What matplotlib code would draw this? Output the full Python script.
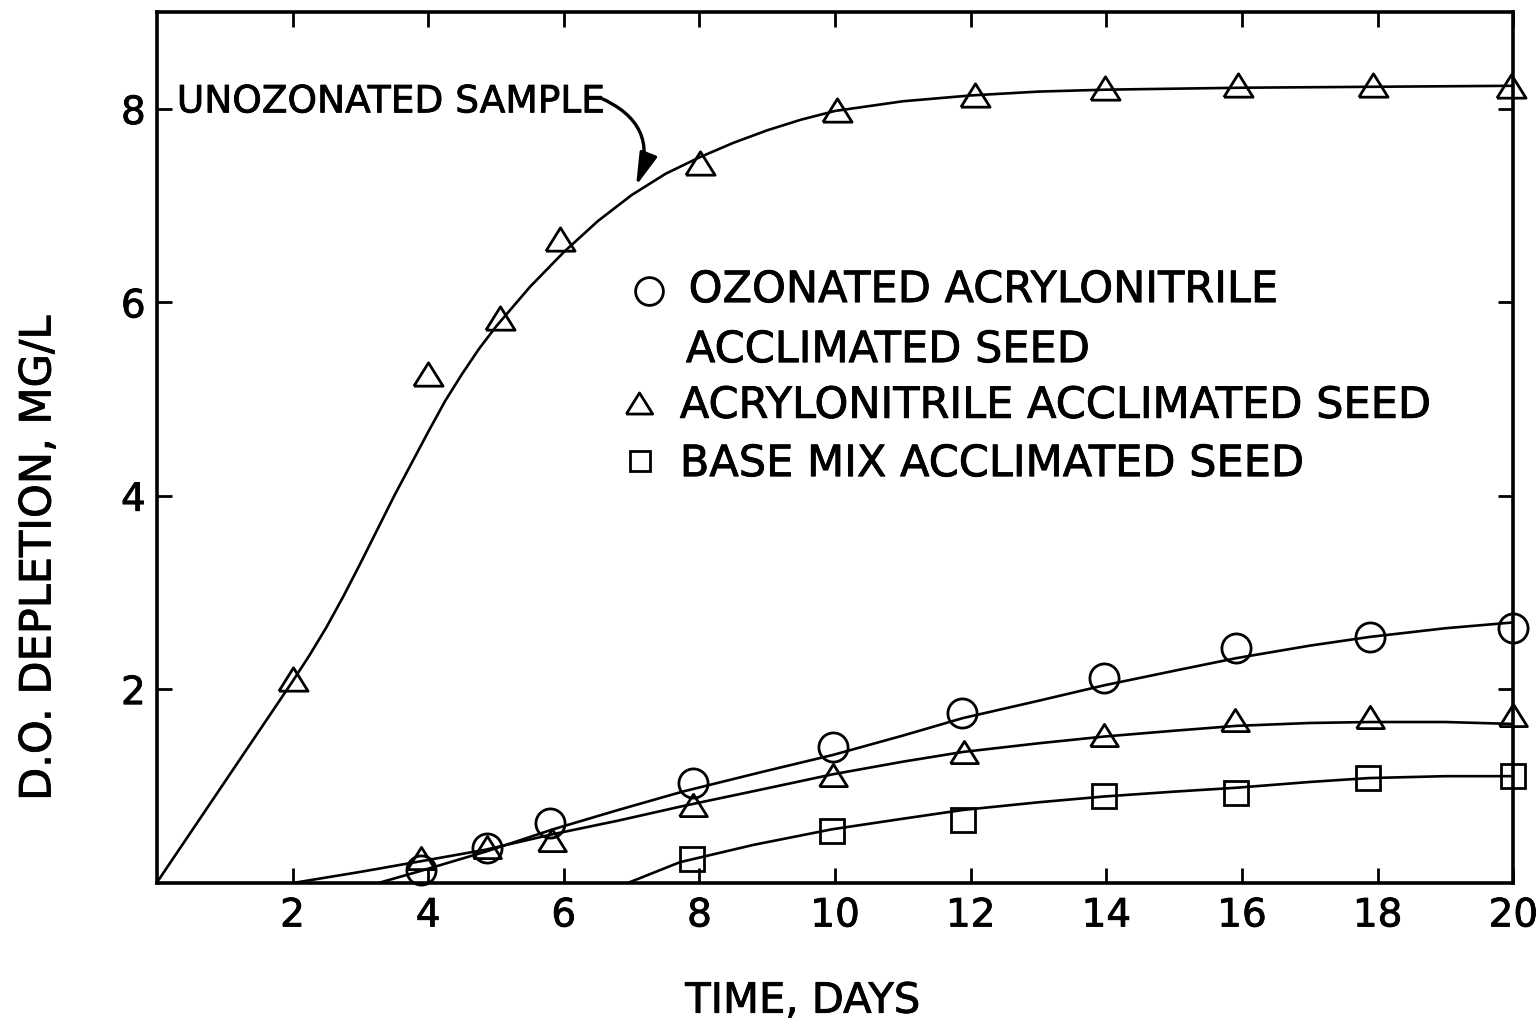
import numpy as np
import matplotlib.pyplot as plt
import matplotlib.patheffects as pe

# D.O. depletion vs time

# unozonated sample - points and hand drawn curve
unoz_t = [2.0, 4.0, 5.06, 5.94, 8.01, 10.03, 12.06, 13.98, 15.94, 17.93, 19.96]
unoz_do = [2.1, 5.26, 5.84, 6.66, 7.44, 7.99, 8.14, 8.22, 8.25, 8.25, 8.24]
unoz_curve_t = [0, 0.5, 1, 1.5, 2, 2.25, 2.5, 2.75, 3, 3.5, 4, 4.25, 4.5, 4.75, 5, 5.5, 6,
                6.5, 7, 7.5, 8, 8.5, 9, 9.5, 10, 11, 12, 13, 14, 16, 18, 20]
unoz_curve_do = [0, 0.52, 1.04, 1.56, 2.08, 2.35, 2.64, 2.96, 3.3, 4.0, 4.66, 4.98, 5.26,
                 5.52, 5.75, 6.16, 6.52, 6.84, 7.11, 7.33, 7.50, 7.65, 7.78, 7.89, 7.98,
                 8.08, 8.14, 8.18, 8.2, 8.22, 8.23, 8.24]

# ozonated acrylonitrile, acclimated seed (circles)
oz_t = [3.89, 4.87, 5.8, 7.9, 9.97, 11.87, 13.97, 15.91, 17.88, 19.99]
oz_do = [0.13, 0.36, 0.62, 1.03, 1.40, 1.75, 2.12, 2.43, 2.54, 2.63]
oz_curve_t = [3.29, 3.89, 4.85, 5.84, 6.8, 7.75, 8.9, 9.97, 11.0, 11.88, 13.0, 13.97, 15.0,
              15.91, 17.0, 17.88, 19.0, 20.0]
oz_curve_do = [0, 0.12, 0.32, 0.55, 0.75, 0.94, 1.14, 1.32, 1.52, 1.70, 1.88, 2.04, 2.19,
               2.32, 2.45, 2.54, 2.63, 2.69]

# acrylonitrile acclimated seed (triangles)
acc_t = [3.89, 4.87, 5.83, 7.9, 9.97, 11.9, 13.97, 15.9, 17.88, 20.0]
acc_do = [0.25, 0.37, 0.44, 0.80, 1.11, 1.35, 1.53, 1.68, 1.71, 1.73]
acc_curve_t = [2.05, 3.0, 3.89, 4.85, 5.84, 6.8, 7.75, 8.9, 9.97, 11.0, 11.88, 13.0, 13.97,
               15.0, 15.91, 17.0, 17.88, 19.0, 20.0]
acc_curve_do = [0, 0.11, 0.22, 0.34, 0.50, 0.64, 0.79, 0.96, 1.12, 1.25, 1.35, 1.44, 1.51,
                1.57, 1.62, 1.65, 1.66, 1.66, 1.64]

# base mix acclimated seed (squares)
base_t = [7.89, 9.95, 11.88, 13.97, 15.91, 17.86, 19.99]
base_do = [0.24, 0.53, 0.65, 0.89, 0.93, 1.08, 1.10]
base_curve_t = [6.96, 7.71, 8.8, 9.95, 11.0, 11.88, 13.0, 13.97, 15.0, 15.91, 17.0, 17.86,
                19.0, 20.0]
base_curve_do = [0, 0.21, 0.39, 0.55, 0.66, 0.75, 0.83, 0.89, 0.94, 0.98, 1.04, 1.08,
                 1.10, 1.10]

x_ticks = [2, 4, 6, 8, 10, 12, 14, 16, 18, 20]
y_ticks = [2, 4, 6, 8]

plt.rcParams['font.family'] = 'DejaVu Sans'

# open triangle, a bit flatter than matplotlib's '^'
tri = [(-1, -0.8), (1, -0.8), (0, 0.8), (-1, -0.8)]
lw = 1.9
mk = dict(linestyle='none', markerfacecolor='none', markeredgecolor='k',
          markeredgewidth=2.0, clip_on=False, zorder=3)
# slightly thicker strokes, like the hand lettering
bold = [pe.withStroke(linewidth=0.6, foreground='k')]

fig = plt.figure(figsize=(15.38, 10.25), dpi=100)
ax = fig.add_axes([0.102, 0.139, 0.882, 0.849])

ax.plot(unoz_curve_t, unoz_curve_do, 'k-', lw=lw)
ax.plot(oz_curve_t, oz_curve_do, 'k-', lw=lw)
ax.plot(acc_curve_t, acc_curve_do, 'k-', lw=lw)
ax.plot(base_curve_t, base_curve_do, 'k-', lw=lw)

ax.plot(unoz_t, unoz_do, marker=tri, markersize=21, **mk)
ax.plot(oz_t, oz_do, marker='o', markersize=21, **mk)
ax.plot(acc_t, acc_do, marker=tri, markersize=20, **mk)
ax.plot(base_t, base_do, marker='s', markersize=17, **mk)

ax.set_xlim(0, 20)
ax.set_ylim(0, 9)
ax.set_xticks(x_ticks)
ax.set_yticks(y_ticks)
ax.tick_params(direction='in', top=True, right=True, length=11, width=2,
               labelsize=28, pad=10)
ax.tick_params(axis='y', pad=8)
for s in ax.spines.values():
    s.set_linewidth(2.6)
for lab in ax.get_xticklabels() + ax.get_yticklabels():
    lab.set_path_effects(bold)

# legend written as in the original drawing
leg_x = 0.392
ax.plot([0.3625], [0.667 + 0.013], transform=ax.transAxes, marker='o', markersize=20, **mk)
ax.text(leg_x, 0.667, 'OZONATED ACRYLONITRILE', transform=ax.transAxes, fontsize=31,
        va='baseline', path_effects=bold)
ax.text(leg_x - 0.002, 0.598, 'ACCLIMATED SEED', transform=ax.transAxes, fontsize=31,
        va='baseline', path_effects=bold)
ax.plot([0.3555], [0.534 + 0.017], transform=ax.transAxes, marker=tri, markersize=19, **mk)
ax.text(leg_x - 0.0065, 0.534, 'ACRYLONITRILE ACCLIMATED SEED', transform=ax.transAxes,
        fontsize=31, va='baseline', path_effects=bold)
ax.plot([0.3565], [0.467 + 0.017], transform=ax.transAxes, marker='s', markersize=15, **mk)
ax.text(leg_x - 0.0065, 0.467, 'BASE MIX ACCLIMATED SEED', transform=ax.transAxes,
        fontsize=31, va='baseline', path_effects=bold)

ax.text(0.0147, 0.885, 'UNOZONATED SAMPLE', transform=ax.transAxes, fontsize=27,
        va='baseline', path_effects=bold)
ax.annotate('', xy=(7.05, 7.18), xytext=(6.49, 8.13),
            arrowprops=dict(arrowstyle='-|>,head_length=0.9,head_width=0.25',
                            connectionstyle='arc3,rad=-0.5', lw=2.4, color='k',
                            mutation_scale=22))

fig.text(0.522, 0.012, 'TIME, DAYS', fontsize=30, ha='center', va='baseline',
         path_effects=bold)
fig.text(0.025, 0.455, 'D.O. DEPLETION, MG/L', fontsize=31, rotation=90,
         ha='center', va='center', path_effects=bold)

plt.savefig('out.png', dpi=100)
